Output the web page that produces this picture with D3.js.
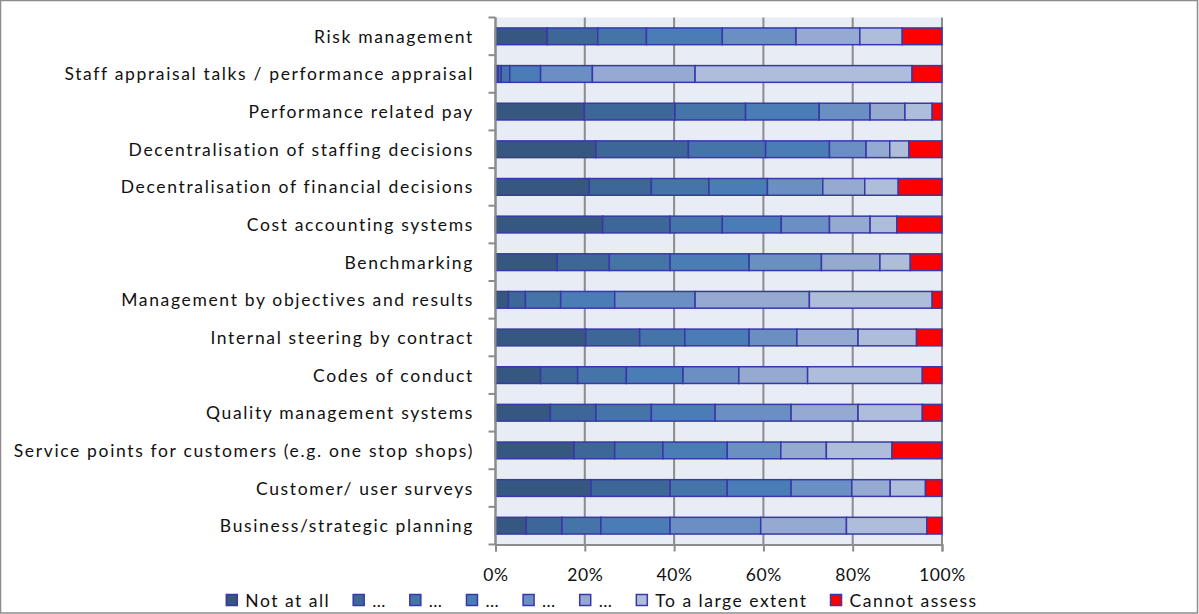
<!DOCTYPE html>
<html>
<head>
<meta charset="utf-8">
<script src="https://cdn.jsdelivr.net/npm/d3@7"></script>
<style>
  html, body { margin: 0; padding: 0; background: #fff; }
  svg { display: block; }
  text { font-family: Lato, "Open Sans", sans-serif; fill: #111; }
</style>
</head>
<body>
<svg id="chart" width="1199" height="614"></svg>
<script>
// ---- data ----
const categories = [
  "Risk management",
  "Staff appraisal talks / performance appraisal",
  "Performance related pay",
  "Decentralisation of staffing decisions",
  "Decentralisation of financial decisions",
  "Cost accounting systems",
  "Benchmarking",
  "Management by objectives and results",
  "Internal steering by contract",
  "Codes of conduct",
  "Quality management systems",
  "Service points for customers (e.g. one stop shops)",
  "Customer/ user surveys",
  "Business/strategic planning"
];
const seriesNames = ["Not at all", "…", "…", "…", "…", "…", "To a large extent", "Cannot assess"];
const notAtAll   = [11.6, 0.6, 19.9, 22.5, 21.0, 24.0, 13.8,  2.9, 20.2, 10.1, 12.3, 17.6, 21.4,  6.9];
const level2     = [11.3, 0.7, 20.3, 20.7, 13.9, 15.1, 11.7,  3.8, 12.1,  8.3, 10.2,  9.1, 17.7,  8.0];
const level3     = [10.9, 1.9, 15.8, 17.3, 12.9, 11.7, 13.6,  7.9, 10.1, 10.9, 12.4, 10.8, 12.8,  8.7];
const level4     = [17.0, 6.9, 16.5, 14.3, 13.1, 13.2, 17.7, 12.1, 14.4, 12.7, 14.3, 14.4, 14.3, 15.5];
const level5     = [16.5, 11.6, 11.4, 8.2, 12.4, 10.8, 16.2, 18.0, 10.7, 12.5, 17.0, 12.0, 13.6, 20.3];
const level6     = [14.3, 23.0, 7.8,  5.3,  9.4,  9.1, 13.1, 25.6, 13.7, 15.4, 15.0, 10.2,  8.6, 19.2];
const largeExtent= [ 9.5, 48.6, 6.1,  4.3,  7.5,  6.0,  6.8, 27.5, 13.1, 25.7, 14.4, 14.7,  7.9, 18.0];
const cannotAssess=[ 8.9, 6.7,  2.2,  7.4,  9.8, 10.1,  7.1,  2.2,  5.7,  4.4,  4.4, 11.2,  3.7,  3.4];
const xTickValues = [0, 20, 40, 60, 80, 100];
const xTickLabels = ["0%", "20%", "40%", "60%", "80%", "100%"];

const seriesValues = [notAtAll, level2, level3, level4, level5, level6, largeExtent, cannotAssess];
const colors = ["#36577F", "#3D6797", "#4474A8", "#4A7CB6", "#6A90C3", "#94AAD1", "#AEBEDA", "#FF0000"];

// ---- layout ----
const svg = d3.select("#chart");
const W = 1199, H = 614;
const plot = { left: 495.5, right: 942, top: 17.5, bottom: 544.5 };

svg.append("rect").attr("x", 0.5).attr("y", 0.5).attr("width", W - 2).attr("height", H - 1.5)
  .attr("fill", "#fff").attr("stroke", "#8c8c8c").attr("stroke-width", 1.5);

const x = d3.scaleLinear().domain([0, 100]).range([plot.left, plot.right]);
const y = d3.scaleBand().domain(categories).range([plot.top, plot.bottom])
  .paddingInner(0.556).paddingOuter(0.278);

// plot background
svg.append("rect").attr("x", plot.left).attr("y", plot.top)
  .attr("width", plot.right - plot.left).attr("height", plot.bottom - plot.top)
  .attr("fill", "#E8ECF4");

// gridlines
svg.append("g").selectAll("line").data(xTickValues).join("line")
  .attr("x1", d => x(d)).attr("x2", d => x(d))
  .attr("y1", plot.top).attr("y2", plot.bottom)
  .attr("stroke", "#8c8c8c").attr("stroke-width", 2);

// stacked data
const rows = categories.map((c, i) => {
  const r = { cat: c };
  seriesValues.forEach((s, k) => r["s" + k] = s[i]);
  return r;
});
const keys = seriesValues.map((s, k) => "s" + k);
const stacked = d3.stack().keys(keys)(rows);

svg.append("g").selectAll("g").data(stacked).join("g")
  .attr("fill", (d, k) => colors[k])
  .selectAll("rect").data(d => d).join("rect")
  .attr("x", d => x(d[0]))
  .attr("y", d => y(d.data.cat))
  .attr("width", d => Math.max(0, x(d[1]) - x(d[0])))
  .attr("height", y.bandwidth())
  .attr("stroke", "#3838A8").attr("stroke-width", 1.5);

// y axis (category) with ticks at band boundaries
const yAxisG = svg.append("g");
yAxisG.append("line").attr("x1", plot.left).attr("x2", plot.left)
  .attr("y1", plot.top).attr("y2", plot.bottom).attr("stroke", "#8c8c8c").attr("stroke-width", 2);
const bounds = d3.range(categories.length + 1).map(i => plot.top + i * y.step());
yAxisG.selectAll("line.tick").data(bounds).join("line").attr("class", "tick")
  .attr("x1", plot.left - 7).attr("x2", plot.left)
  .attr("y1", d => d).attr("y2", d => d)
  .attr("stroke", "#8c8c8c").attr("stroke-width", 2);
yAxisG.selectAll("text").data(categories).join("text")
  .attr("x", 474).attr("y", d => y(d) + y.bandwidth() / 2)
  .attr("text-anchor", "end").attr("dominant-baseline", "central")
  .attr("font-size", 17.5).attr("letter-spacing", 1.65)
  .text(d => d);

// x axis
const xAxis = d3.axisBottom(x).tickValues(xTickValues)
  .tickFormat((d, i) => xTickLabels[i]).tickSize(7).tickPadding(17);
const xg = svg.append("g").attr("transform", `translate(0,${plot.bottom})`).call(xAxis);
xg.select(".domain").attr("stroke", "#8c8c8c").attr("stroke-width", 2);
xg.selectAll(".tick line").attr("stroke", "#8c8c8c").attr("stroke-width", 2);
xg.selectAll(".tick text").attr("font-size", 17.5).attr("letter-spacing", 0.6)
  .attr("font-family", "Lato, 'Open Sans', sans-serif").attr("fill", "#111");

// legend
const legend = svg.append("g");
const items = legend.selectAll("g").data(seriesNames).join("g");
items.append("rect").attr("width", 11).attr("height", 11).attr("y", -5.5)
  .attr("fill", (d, i) => colors[i]).attr("stroke", "#3838A8").attr("stroke-width", 1.5);
items.append("text").attr("x", 19).attr("dominant-baseline", "central")
  .attr("font-size", 17.5).attr("letter-spacing", 1.5).text(d => d);
let cx = 0;
const gap = 23;
items.each(function () {
  const g = d3.select(this);
  const tw = g.select("text").node().getComputedTextLength();
  g.attr("data-x", cx);
  cx += 19 + tw + gap;
});
const totalW = cx - gap;
const startX = 602 - totalW / 2;
items.attr("transform", function () {
  return `translate(${startX + (+d3.select(this).attr("data-x"))},600)`;
});
</script>
</body>
</html>
